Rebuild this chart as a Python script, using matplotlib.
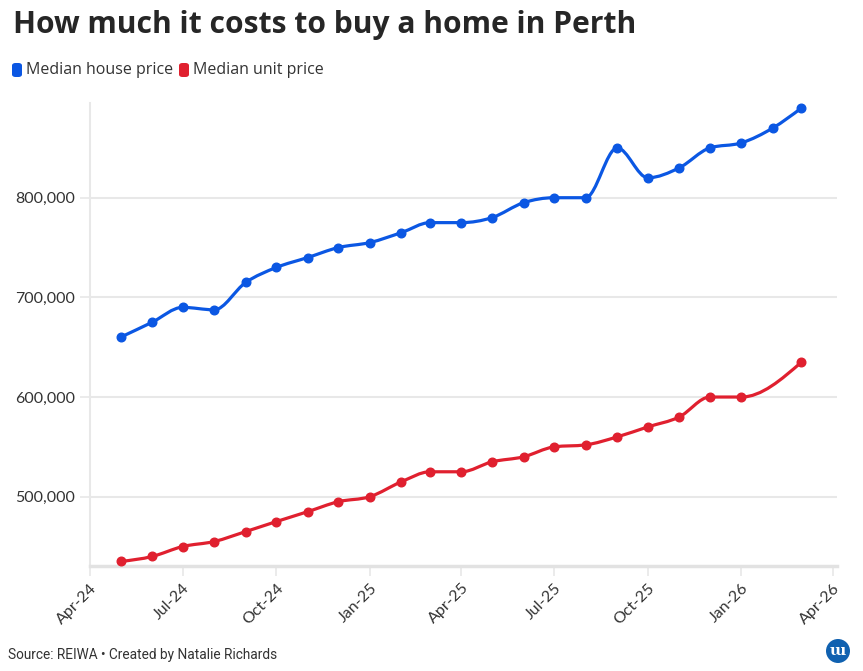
import numpy as np
import matplotlib
matplotlib.use("Agg")
import matplotlib.pyplot as plt
import matplotlib.dates as mdates
from matplotlib.path import Path
from matplotlib.patches import PathPatch, FancyBboxPatch, Ellipse
import datetime as dt

# data
months = ["2024-05", "2024-06", "2024-07", "2024-08", "2024-09", "2024-10", "2024-11",
          "2024-12", "2025-01", "2025-02", "2025-03", "2025-04", "2025-05", "2025-06",
          "2025-07", "2025-08", "2025-09", "2025-10", "2025-11", "2025-12", "2026-01",
          "2026-02", "2026-03"]
house_price = [660000, 675000, 690000, 687500, 715000, 730000, 740000, 750000, 755000,
               765000, 775000, 775000, 780000, 795000, 800000, 800000, 850000, 820000,
               830000, 850000, 855000, 870000, 890000]
# no unit figure for Feb-26
unit_price = [435000, 440000, 450000, 455000, 465000, 475000, 485000, 495000, 500000,
              515000, 525000, 525000, 535000, 540000, 550000, 552000, 560000, 570000,
              580000, 600000, 600000, None, 635000]
tick_months = ["2024-04", "2024-07", "2024-10", "2025-01", "2025-04", "2025-07",
               "2025-10", "2026-01", "2026-04"]
y_ticks = [500000, 600000, 700000, 800000]

BLUE = "#0b57e3"
RED = "#e0202f"
GRID = "#e8e8e8"
TEXT = "#333333"


def to_num(m):
    y, mo = m.split("-")
    return mdates.date2num(dt.datetime(int(y), int(mo), 1))


def monotone_path(x, y):
    # cubic bezier path like d3.curveMonotoneX
    x = np.asarray(x, float)
    y = np.asarray(y, float)
    n = len(x)
    t = np.zeros(n)
    for i in range(1, n - 1):
        h0 = x[i] - x[i - 1]
        h1 = x[i + 1] - x[i]
        s0 = (y[i] - y[i - 1]) / h0
        s1 = (y[i + 1] - y[i]) / h1
        p = (s0 * h1 + s1 * h0) / (h0 + h1)
        t[i] = (np.sign(s0) + np.sign(s1)) * min(abs(s0), abs(s1), 0.5 * abs(p))
    t[0] = (3 * (y[1] - y[0]) / (x[1] - x[0]) - t[1]) / 2
    t[-1] = (3 * (y[-1] - y[-2]) / (x[-1] - x[-2]) - t[-2]) / 2
    verts = [(x[0], y[0])]
    codes = [Path.MOVETO]
    for i in range(n - 1):
        dx = (x[i + 1] - x[i]) / 3
        verts += [(x[i] + dx, y[i] + dx * t[i]),
                  (x[i + 1] - dx, y[i + 1] - dx * t[i + 1]),
                  (x[i + 1], y[i + 1])]
        codes += [Path.CURVE4] * 3
    return Path(verts, codes)


fig = plt.figure(figsize=(8.63, 6.71), dpi=100)
ax = fig.add_axes([0.1043, 0.157, 0.8656, 0.689])

for vals, col in [(house_price, BLUE), (unit_price, RED)]:
    xs = [to_num(m) for m, v in zip(months, vals) if v is not None]
    ys = [v for v in vals if v is not None]
    ax.add_patch(PathPatch(monotone_path(xs, ys), fill=False, edgecolor=col,
                           lw=2.3, capstyle="round", joinstyle="round", zorder=3))
    ax.plot(xs, ys, "o", color=col, ms=6.2, zorder=4)

ax.set_xlim(to_num("2024-04"), to_num("2026-04") + 4)
ax.set_ylim(430800, 894700)

ax.set_yticks(y_ticks)
ax.set_yticklabels([f"{v:,}" for v in y_ticks])
ax.set_xticks([to_num(m) for m in tick_months])
ax.set_xticklabels([dt.datetime.strptime(m, "%Y-%m").strftime("%b-%y") for m in tick_months],
                   rotation=45, ha="right", rotation_mode="anchor")

ax.grid(axis="y", color=GRID, lw=1.5, zorder=0)
for s in ["top", "right"]:
    ax.spines[s].set_visible(False)
ax.spines["left"].set_color(GRID)
ax.spines["left"].set_linewidth(1.5)
ax.spines["bottom"].set_color("#e2e2e2")
ax.spines["bottom"].set_linewidth(2.5)
ax.tick_params(axis="y", length=7, width=1.2, color=GRID, pad=4,
               labelsize=11.5, labelcolor=TEXT)
ax.tick_params(axis="x", length=7, width=1.2, color=GRID, pad=4,
               labelsize=11.5, labelcolor=TEXT)
for lab in ax.get_xticklabels() + ax.get_yticklabels():
    lab.set_fontfamily("Lato")

# title
fig.text(0.015, 0.962, "How much it costs to buy a home in Perth", fontsize=21.6,
         fontweight="bold", color="#262626", family="Open Sans", va="center")

# legend
W, H = 863, 671
for x0, col, label in [(12, BLUE, "Median house price"), (179, RED, "Median unit price")]:
    fig.patches.append(FancyBboxPatch((x0 / W, (H - 77) / H), 10 / W, 14 / H,
                                      boxstyle="round,pad=0,rounding_size=0.004",
                                      transform=fig.transFigure, facecolor=col,
                                      edgecolor="none"))
    fig.text((x0 + 14) / W, (H - 70) / H, label, fontsize=11.5, color=TEXT,
             family="Open Sans", va="center")

# footer
fig.text(8 / W, (H - 655) / H, "Source: REIWA \u2022 Created by Natalie Richards",
         fontsize=9.8, color=TEXT, family="Roboto", va="center")

# logo
fig.patches.append(Ellipse((838 / W, (H - 651) / H), 24 / W, 24 / H,
                           transform=fig.transFigure, facecolor="#1061b0",
                           edgecolor="none"))
fig.text(838 / W, (H - 651) / H, "ɯ", fontsize=11, color="white", ha="center",
         va="center", family="DejaVu Serif", fontweight="bold")

fig.savefig("out.png", dpi=100)
